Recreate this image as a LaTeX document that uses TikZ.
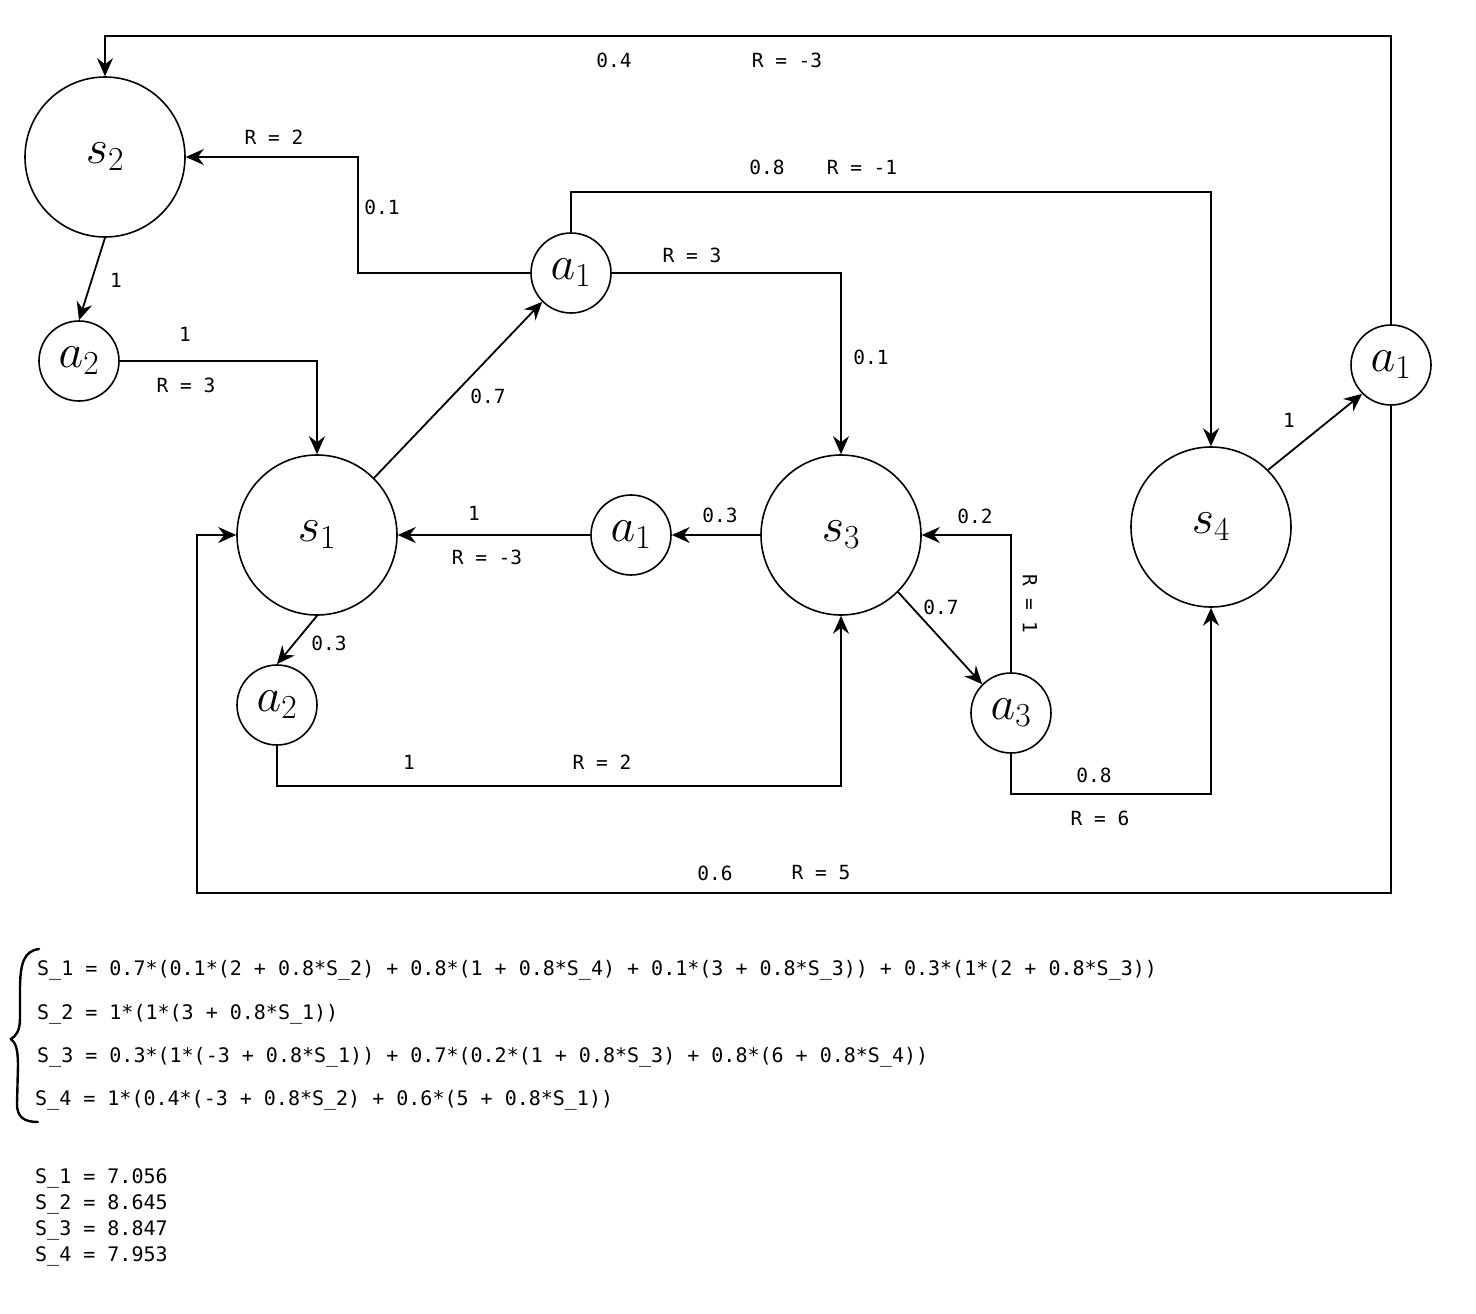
\documentclass[tikz,border=0pt]{standalone}
\usepackage{fix-cm}
\usepackage{amsmath}
\usepackage{fontspec}
\setmonofont{DejaVu Sans Mono}
\usepackage{tikz}
\usetikzlibrary{positioning}
\usetikzlibrary{arrows.meta}

\tikzset{
    state/.style={circle, draw, line width=1.6pt, minimum size=160pt, inner sep=0pt, font=\fontsize{48}{48}\selectfont},
    act/.style={circle, draw, line width=1.6pt, minimum size=80pt, inner sep=0pt, font=\fontsize{48}{48}\selectfont},
    arr/.style={line width=1.8pt, -{Stealth[length=18pt, width=16pt, inset=6pt]}},
    lbl/.style={inner sep=0pt, font=\fontsize{19.5}{19.5}\ttfamily},
    eqn/.style={inner sep=0pt, anchor=west, font=\fontsize{20}{20}\ttfamily}
}

\begin{document}
\begin{tikzpicture}[x=1pt, y=-1pt, on grid]
    \useasboundingbox (0,0) rectangle (1476,1314);

    % states
    \node [state] (s1) at (317,535) {$s_1$};
    \node [state, above left=378pt and 212pt of s1] (s2) {$s_2$};
    \node [state, right=524pt of s1] (s3) {$s_3$};
    \node [state, above right=8pt and 370pt of s3] (s4) {$s_4$};

    % actions
    \node [act, below left=204pt and 26pt of s2] (s2a2) {$a_2$};
    \node [act, above right=262pt and 254pt of s1] (s1a1) {$a_1$};
    \node [act, below left=170pt and 40pt of s1] (s1a2) {$a_2$};
    \node [act, right=314pt of s1] (s3a1) {$a_1$};
    \node [act, below right=178pt and 170pt of s3] (s3a3) {$a_3$};
    \node [act, above right=162pt and 180pt of s4] (s4a1) {$a_1$};

    % s1 -> a1
    \draw [arr] (s1.north east) -- (s1a1.south west);
    \draw [arr] (s1a1.west) -| (358,157) -- (s2.east);
    \draw [arr] (s1a1.north) -- ++(0,-40) -| (s4.north);
    \draw [arr] (s1a1.east) -| (s3.north);

    % s1 -> a2
    \draw [arr] (s1.south) -- (s1a2.north);
    \draw [arr] (s1a2.south) -- ++(0,40) -| (s3.south);

    % s2
    \draw [arr] (s2.south) -- (s2a2.north);
    \draw [arr] (s2a2.east) -| (s1.north);

    % s3
    \draw [arr] (s3.west) -- (s3a1.east);
    \draw [arr] (s3a1.west) -- (s1.east);
    \draw [arr] (s3.south east) -- (s3a3.north west);
    \draw [arr] (s3a3.north) |- (s3.east);
    \draw [arr] (s3a3.south) -- ++(0,40) -| (s4.south);

    % s4
    \draw [arr] (s4.north east) -- (s4a1.south west);
    \draw [arr] (s4a1.north) -- ++(0,-288) -| (s2.north);
    \draw [arr] (s4a1.south) |- (197,893) |- (s1.west);

    % labels
    \node [lbl] (p1) at (614,60) {0.4};
    \node [lbl] (r1) at (787,60) {R = -3};
    \node [lbl] (p2) at (767,167) {0.8};
    \node [lbl] (r2) at (862,167) {R = -1};
    \node [lbl] (r3) at (274,137) {R = 2};
    \node [lbl] (p3) at (382,207) {0.1};
    \node [lbl] (r4) at (692,255) {R = 3};
    \node [lbl] (p4) at (871,357) {0.1};
    \node [lbl] (p5) at (116,280) {1};
    \node [lbl] (p6) at (185,334) {1};
    \node [lbl] (r5) at (186,385) {R = 3};
    \node [lbl] (p7) at (488,396) {0.7};
    \node [lbl] (p8) at (1289,420) {1};
    \node [lbl] (p9) at (474,513) {1};
    \node [lbl] (r6) at (487,557) {R = -3};
    \node [lbl] (p10) at (720,515) {0.3};
    \node [lbl] (p11) at (975,516) {0.2};
    \node [lbl, rotate=-90] (r7) at (1030,604) {R = 1};
    \node [lbl] (p12) at (941,607) {0.7};
    \node [lbl] (p13) at (329,643) {0.3};
    \node [lbl] (p14) at (409,762) {1};
    \node [lbl] (r8) at (602,762) {R = 2};
    \node [lbl] (p15) at (1094,775) {0.8};
    \node [lbl] (r9) at (1100,818) {R = 6};
    \node [lbl] (p16) at (715,873) {0.6};
    \node [lbl] (r10) at (821,873) {R = 5};

    % equations
    \draw [line width=2.4pt, line cap=round]
        (39,949) .. controls (24,951) and (20,963) .. (20,990) -- (20,1018)
        .. controls (20,1031) and (16,1036) .. (11,1039)
        .. controls (16,1043) and (18,1050) .. (18,1066) -- (17,1104)
        .. controls (17,1117) and (24,1122) .. (38,1122);
    \node [eqn] (e1) at (37,970) {S\_1 = 0.7*(0.1*(2 + 0.8*S\_2) + 0.8*(1 + 0.8*S\_4) + 0.1*(3 + 0.8*S\_3)) + 0.3*(1*(2 + 0.8*S\_3))};
    \node [eqn] (e2) at (37,1014) {S\_2 = 1*(1*(3 + 0.8*S\_1))};
    \node [eqn] (e3) at (37,1057) {S\_3 = 0.3*(1*(-3 + 0.8*S\_1)) + 0.7*(0.2*(1 + 0.8*S\_3) + 0.8*(6 + 0.8*S\_4))};
    \node [eqn] (e4) at (35,1100) {S\_4 = 1*(0.4*(-3 + 0.8*S\_2) + 0.6*(5 + 0.8*S\_1))};

    % values
    \node [eqn] (v1) at (35,1178) {S\_1 = 7.056};
    \node [eqn] (v2) at (35,1204) {S\_2 = 8.645};
    \node [eqn] (v3) at (35,1230) {S\_3 = 8.847};
    \node [eqn] (v4) at (35,1256) {S\_4 = 7.953};
\end{tikzpicture}
\end{document}
